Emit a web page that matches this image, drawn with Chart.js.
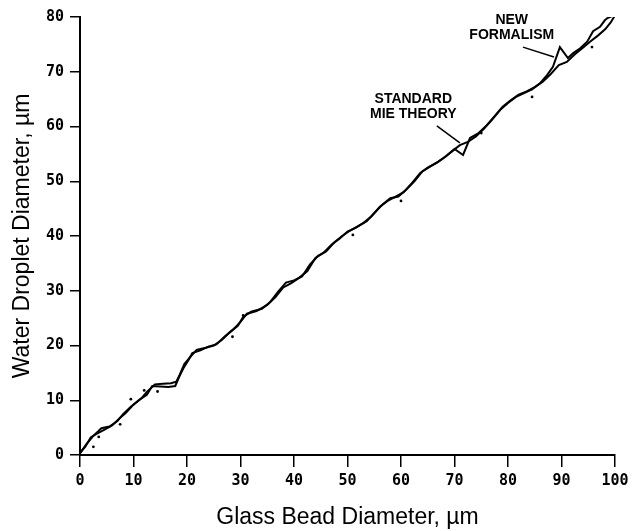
<!DOCTYPE html>
<html lang="en">
  <head>
    <meta charset="UTF-8" />
    <title>Water Droplet vs Glass Bead Diameter</title>
    <script src="https://cdn.jsdelivr.net/npm/chart.js"></script>
    <style>
      body {
        margin: 0;
        background: #fff;
      }
      #chart {
        display: block;
      }
    </style>
  </head>
  <body>
    <canvas id="chart" width="638" height="531"></canvas>

    <script>
      // Standard Mie theory curve (glass bead diameter -> water droplet diameter)
      const mieX = [0, 1, 2, 3, 4.5, 6, 7.5, 8.5, 10, 11.5, 12.5, 14, 15.5, 17, 18, 18.6, 19.5, 20.5, 21.8, 23.5, 25, 26.5, 28, 29.5, 30.5, 32, 34, 35.5, 37, 38.5, 40, 41.5, 43, 44.5, 46, 47.5, 49, 50.5, 52, 53.6, 55, 56.5, 58, 59.5, 61, 62.5, 64, 65.5, 67, 68.5, 70, 71.6, 72.9, 74.5, 76, 77.5, 79, 80.5, 82, 83.5, 85, 86.5, 88, 89.5, 91, 92.5, 94, 95.5, 96.8, 98.2, 99.2, 100];
      const mieY = [0.4, 1.5, 3.2, 3.8, 4.6, 5.4, 6.8, 7.6, 9.2, 10.4, 11.5, 12.9, 13, 13.1, 13.4, 14.6, 16.6, 17.8, 19.2, 19.6, 20, 21, 22.4, 23.6, 25.2, 26.2, 26.7, 27.9, 29.8, 31.5, 31.9, 32.6, 34.8, 36.4, 37.2, 38.8, 40, 41, 41.8, 42.7, 44.2, 45.7, 46.9, 47.2, 48.5, 50, 51.8, 52.7, 53.6, 54.6, 55.9, 54.8, 57.9, 58.8, 60.2, 61.9, 63.6, 64.8, 65.8, 66.4, 67.2, 68.2, 69.6, 71.2, 71.8, 73.2, 74.4, 75.6, 76.6, 77.8, 79, 80.3];

      // New formalism curve
      const newX = [0, 1.2, 2.5, 4, 5.5, 7, 8, 9.5, 11, 12.5, 13.5, 15, 16.5, 17.8, 18.5, 19.3, 20.2, 21, 22.5, 24, 25.5, 27, 28.6, 30, 31.2, 33, 35, 36.5, 38, 39.5, 41, 42.5, 44, 45.5, 47, 48.5, 50, 51.5, 53, 54.5, 56, 57.5, 59, 60.5, 62, 63.6, 65, 66.7, 68, 69.7, 71, 72.5, 74, 75.5, 77, 78.5, 80, 81.5, 83, 84.5, 86, 87.3, 88.4, 89.7, 91.2, 92.2, 93.5, 94.8, 95.9, 97.2, 98.1, 98.6, 99.5, 100];
      const newY = [0.3, 2, 3.5, 4.9, 5.2, 6.2, 7.4, 8.8, 10, 11, 12.6, 12.5, 12.4, 12.6, 14.2, 15.8, 17.2, 18.6, 19.1, 19.8, 20.2, 21.6, 22.9, 24.3, 25.8, 26.3, 27.4, 28.8, 30.6, 31.4, 32.4, 33.6, 36, 36.9, 38.4, 39.5, 40.8, 41.5, 42.4, 43.6, 45.3, 46.4, 47.2, 48, 49.6, 51.5, 52.5, 53.4, 54.3, 55.6, 56.6, 57.2, 58.2, 59.6, 61.2, 63, 64.3, 65.4, 66.1, 66.8, 67.9, 69.4, 70.9, 74.5, 72.5, 73.4, 74.3, 75.5, 77.4, 78.2, 79.4, 79.8, 80.2, 80.6];

      // stray measurement dots around the curves
      const dotX = [2.5, 3.5, 7.5, 9.5, 12, 14.5, 28.5, 30.5, 51, 60, 75, 84.5, 95.7];
      const dotY = [1.5, 3.3, 5.6, 10.2, 11.8, 11.6, 21.6, 25.5, 40.2, 46.4, 58.8, 65.4, 74.5];

      const xTicks = [0, 10, 20, 30, 40, 50, 60, 70, 80, 90, 100];
      const yTicks = [0, 10, 20, 30, 40, 50, 60, 70, 80];

      // callout labels: text lines, label centre and leader line (data units)
      const callouts = [
        { lines: ["STANDARD", "MIE THEORY"], at: [62.3, 63.7], from: [66.7, 60.1], to: [71.0, 57.0] },
        { lines: ["NEW", "FORMALISM"], at: [80.7, 78.1], from: [82.8, 74.5], to: [88.6, 72.7] },
      ];

      const toPoints = (xs, ys) => xs.map((x, i) => ({ x: x, y: ys[i] }));

      const calloutPlugin = {
        id: "callouts",
        afterDatasetsDraw(chart) {
          const ctx = chart.ctx;
          const xs = chart.scales.x;
          const ys = chart.scales.y;
          ctx.save();
          ctx.fillStyle = "#000";
          ctx.strokeStyle = "#000";
          ctx.lineWidth = 1.5;
          ctx.font = "bold 14px 'Liberation Sans', Arial, sans-serif";
          ctx.textAlign = "center";
          ctx.textBaseline = "middle";
          callouts.forEach((c) => {
            const cx = xs.getPixelForValue(c.at[0]);
            const cy = ys.getPixelForValue(c.at[1]);
            const lh = 15;
            c.lines.forEach((t, i) => {
              ctx.fillText(t, cx, cy + (i - (c.lines.length - 1) / 2) * lh);
            });
            ctx.beginPath();
            ctx.moveTo(xs.getPixelForValue(c.from[0]), ys.getPixelForValue(c.from[1]));
            ctx.lineTo(xs.getPixelForValue(c.to[0]), ys.getPixelForValue(c.to[1]));
            ctx.stroke();
          });
          ctx.restore();
        },
      };

      const tickFont = { family: "'DejaVu Sans Mono', monospace", weight: "bold", size: 15 };
      const titleFont = { family: "'Liberation Sans', Arial, sans-serif", size: 23 };

      new Chart(document.getElementById("chart"), {
        type: "line",
        data: {
          datasets: [
            {
              label: "Standard Mie theory",
              data: toPoints(mieX, mieY),
              borderColor: "#000",
              borderWidth: 2,
              pointRadius: 0,
              tension: 0,
              fill: false,
            },
            {
              label: "New formalism",
              data: toPoints(newX, newY),
              borderColor: "#000",
              borderWidth: 2,
              pointRadius: 0,
              tension: 0,
              fill: false,
            },
            {
              type: "scatter",
              label: "dots",
              data: toPoints(dotX, dotY),
              backgroundColor: "#000",
              borderWidth: 0,
              pointRadius: 1.4,
              showLine: false,
            },
          ],
        },
        options: {
          responsive: false,
          animation: false,
          layout: { padding: { top: 17, right: 23, left: 0, bottom: 0 } },
          plugins: {
            legend: { display: false },
            tooltip: { enabled: false },
          },
          scales: {
            x: {
              type: "linear",
              min: 0,
              max: 100,
              afterBuildTicks: (scale) => {
                scale.ticks = xTicks.map((v) => ({ value: v }));
              },
              afterFit: (scale) => {
                scale.height = 76;
              },
              grid: {
                drawOnChartArea: false,
                drawTicks: true,
                tickLength: 12,
                color: "#000",
                lineWidth: 1.5,
              },
              border: { display: true, color: "#000", width: 2 },
              ticks: {
                color: "#000",
                font: tickFont,
                padding: 5,
                maxRotation: 0,
                autoSkip: false,
              },
              title: {
                display: true,
                text: "Glass Bead Diameter, µm",
                color: "#000",
                font: titleFont,
                padding: { top: 0, bottom: 0 },
              },
            },
            y: {
              type: "linear",
              min: 0,
              max: 80,
              afterBuildTicks: (scale) => {
                scale.ticks = yTicks.map((v) => ({ value: v }));
              },
              afterFit: (scale) => {
                scale.width = 80;
              },
              grid: {
                drawOnChartArea: false,
                drawTicks: true,
                tickLength: 10,
                color: "#000",
                lineWidth: 1.5,
              },
              border: { display: true, color: "#000", width: 2 },
              ticks: {
                color: "#000",
                font: tickFont,
                padding: 6,
                autoSkip: false,
              },
              title: {
                display: true,
                text: "Water Droplet Diameter, µm",
                color: "#000",
                font: titleFont,
                padding: { top: 9, bottom: 0 },
              },
            },
          },
        },
        plugins: [calloutPlugin],
      });
    </script>
  </body>
</html>
